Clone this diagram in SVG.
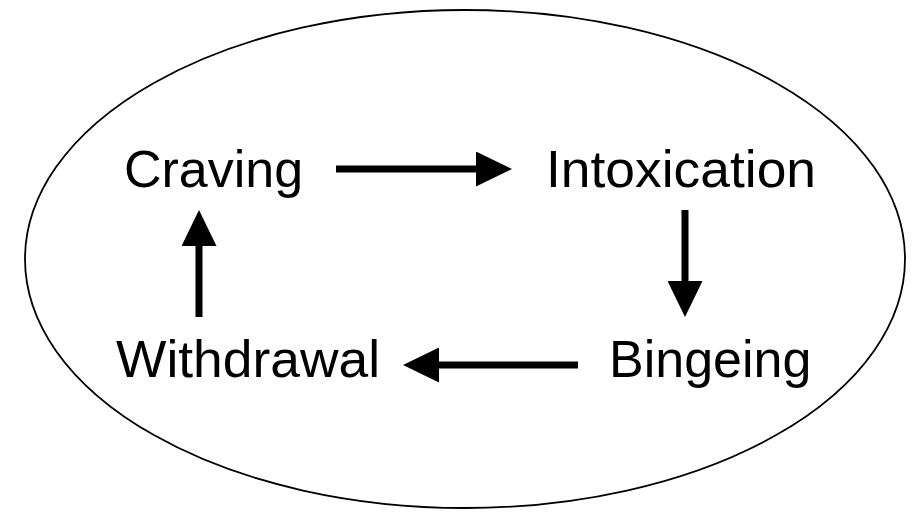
<svg xmlns="http://www.w3.org/2000/svg" width="921" height="513" viewBox="0 0 921 513">
<style>
.lbl{font-family:"Liberation Sans",Arial,Helvetica,sans-serif;font-size:52px;fill:#000}
.conn{stroke:#000;stroke-width:7;fill:none}
</style>
<defs>
<marker id="ah" markerUnits="userSpaceOnUse" markerWidth="36" markerHeight="35" viewBox="0 0 36 35" refX="1" refY="17.5" orient="auto">
<path d="M0,0 L36,17.5 L0,35 z" fill="#000"/>
</marker>
</defs>
<rect width="921" height="513" fill="#fff"/>
<ellipse id="boundary" cx="465" cy="259" rx="440" ry="249" fill="none" stroke="#000" stroke-width="1.8"/>
<g id="craving"><text class="lbl" x="124" y="187">Craving</text></g>
<g id="intoxication"><text class="lbl" x="546" y="187" textLength="270" lengthAdjust="spacingAndGlyphs">Intoxication</text></g>
<g id="bingeing"><text class="lbl" x="609" y="377">Bingeing</text></g>
<g id="withdrawal"><text class="lbl" x="116" y="377" textLength="264" lengthAdjust="spacingAndGlyphs">Withdrawal</text></g>
<g id="connectors">
<line class="conn" x1="336" y1="169" x2="477" y2="169" marker-end="url(#ah)"/>
<line class="conn" x1="685" y1="210" x2="685" y2="282" marker-end="url(#ah)"/>
<line class="conn" x1="578" y1="365" x2="438" y2="365" marker-end="url(#ah)"/>
<line class="conn" x1="199" y1="317" x2="199" y2="245" marker-end="url(#ah)"/>
</g>
</svg>
